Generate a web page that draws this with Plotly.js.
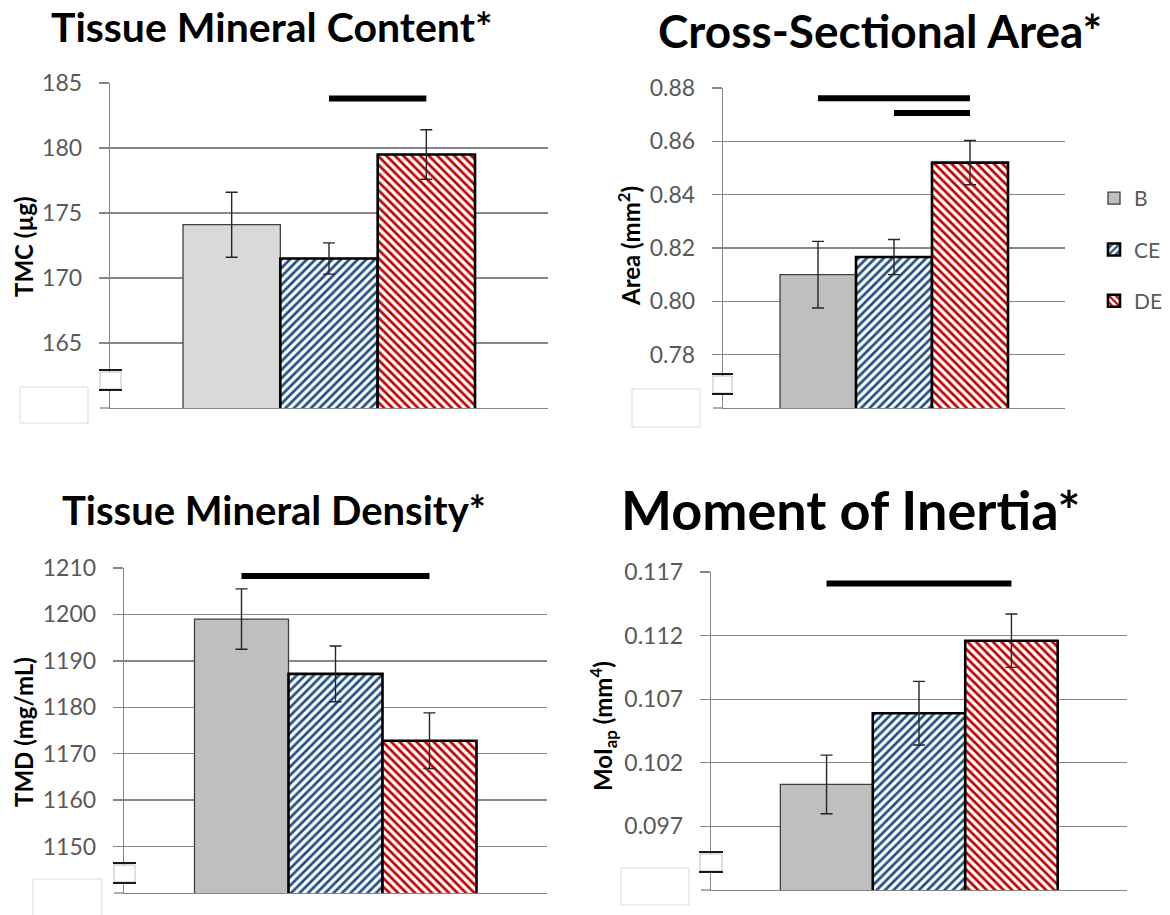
<!DOCTYPE html>
<html>
<head>
<meta charset="utf-8">
<script src="https://cdn.plot.ly/plotly-3.0.1.min.js"></script>
<style>
html,body{margin:0;padding:0;background:#fff;}
#chart{width:1170px;height:915px;}
</style>
</head>
<body>
<div id="chart"></div>
<script>
// ---------- DATA ----------
const groups = ["B", "CE", "DE"];

const tmcMean = [174.1, 171.5, 179.5];
const tmcErr  = [2.5, 1.2, 1.9];
const tmcRange = [160, 185];
const tmcTicks = [165, 170, 175, 180, 185];
const tmcSig = [[1, 2, 183.8]];

const areaMean = [0.810, 0.8166, 0.852];
const areaErr  = [0.0125, 0.0066, 0.0083];
const areaRange = [0.76, 0.88];
const areaTicks = [0.78, 0.80, 0.82, 0.84, 0.86, 0.88];
const areaSig = [[0, 2, 0.8762], [1, 2, 0.8706]];

const tmdMean = [1199.0, 1187.2, 1172.8];
const tmdErr  = [6.5, 6.0, 6.0];
const tmdRange = [1140, 1210];
const tmdTicks = [1150, 1160, 1170, 1180, 1190, 1200, 1210];
const tmdSig = [[0, 2, 1208.3]];

const moiMean = [0.1003, 0.1059, 0.1116];
const moiErr  = [0.0023, 0.0025, 0.0021];
const moiRange = [0.092, 0.117];
const moiTicks = [0.097, 0.102, 0.107, 0.112, 0.117];
const moiSig = [[0, 2, 0.1161]];

const titles = ["Tissue Mineral Content*", "Cross-Sectional Area*", "Tissue Mineral Density*", "Moment of Inertia*"];
const yTitles = ["TMC (µg)", "Area (mm<sup>2</sup>)", "TMD (mg/mL)", "MoI<sub>ap</sub> (mm<sup>4</sup>)"];

// ---------- STYLE / LAYOUT ----------
const W = 1170, H = 915;
const px = x => x / W;
const py = y => 1 - y / H;
const FONT = "Lato, 'Open Sans', sans-serif";
const GRID = "#868686";

const panels = [
  {mean: tmcMean, err: tmcErr, range: tmcRange, ticks: tmcTicks, fmt: ".0f", sig: tmcSig, bcol: "#d9d9d9",
   box: [110, 548, 83, 408], title: [271, 26, 41], ytitle: [23, 247],
   brk: [99, 122, 370, 390], empty: [20, 88, 387, 423]},
  {mean: areaMean, err: areaErr, range: areaRange, ticks: areaTicks, fmt: ".2f", sig: areaSig, bcol: "#bfbfbf",
   box: [723, 1065, 88, 408], title: [880, 30, 46], ytitle: [629, 246],
   brk: [712, 733, 374, 394], empty: [632, 700, 389, 427]},
  {mean: tmdMean, err: tmdErr, range: tmdRange, ticks: tmdTicks, fmt: ".0f", sig: tmdSig, bcol: "#bfbfbf",
   box: [124, 547, 568, 893], title: [274, 510, 40], ytitle: [23, 732],
   brk: [113, 136, 863, 883], empty: [33, 102, 879, 925]},
  {mean: moiMean, err: moiErr, range: moiRange, ticks: moiTicks, fmt: ".3f", sig: moiSig, bcol: "#bfbfbf",
   box: [711, 1127, 572, 890], title: [850, 510, 54], ytitle: [603, 726],
   brk: [699, 723, 852, 872], empty: [621, 689, 868, 905]}
];

const traces = [];
const shapes = [];
const annotations = [];
const layout = {
  width: W, height: H,
  margin: {l: 0, r: 0, t: 0, b: 0},
  paper_bgcolor: "#fff", plot_bgcolor: "#fff",
  barmode: "overlay",
  showlegend: true,
  legend: {x: px(1094), y: py(178), xanchor: "left", yanchor: "top",
           font: {family: FONT, size: 21, color: "#595959"},
           traceorder: "grouped", tracegroupgap: 21, itemwidth: 30, bgcolor: "rgba(0,0,0,0)"},
  font: {family: FONT}
};

panels.forEach((p, i) => {
  const n = i === 0 ? "" : String(i + 1);
  const xa = "x" + n, ya = "y" + n;
  const [x0, x1, yTop, yBot] = p.box;
  layout["xaxis" + n] = {
    domain: [px(x0), px(x1)], anchor: ya, range: [-1.25, 3.25],
    showgrid: false, zeroline: false, showticklabels: false, ticks: "",
    showline: true, linecolor: GRID, linewidth: 1.3, fixedrange: true
  };
  layout["yaxis" + n] = {
    domain: [py(yBot), py(yTop)], anchor: xa, range: p.range,
    tickvals: p.ticks, tickformat: p.fmt, ticks: "outside", ticklen: 10, tickcolor: GRID, tickwidth: 1.3,
    showgrid: true, gridcolor: GRID, gridwidth: 1.3, zeroline: false,
    showline: true, linecolor: GRID, linewidth: 1.3,
    tickfont: {family: FONT, size: 23, color: "#595959"}, ticklabelstandoff: 12, fixedrange: true
  };

  groups.forEach((g, k) => {
    const marker = k === 0
      ? {color: p.bcol, line: {color: "#404040", width: 1.3}}
      : {color: k === 1 ? "#1f4e85" : "#c00000",
         line: {color: "#000", width: 2.6},
         pattern: {shape: k === 1 ? "/" : "\\", fgcolor: k === 1 ? "#1f4e85" : "#c00000",
                   bgcolor: "#ffffff", size: 6, solidity: 0.45, fillmode: "replace"}};
    traces.push({
      type: "bar", x: [k], y: [p.mean[k]], width: 1, xaxis: xa, yaxis: ya,
      name: g, legendgroup: g, showlegend: i === 1,
      marker: marker, cliponaxis: true,
      error_y: {type: "data", array: [p.err[k]], visible: true, color: "#262626", thickness: 1.4, width: 6},
      hoverinfo: "skip"
    });
  });

  // bottom tick stub (unlabelled range minimum)
  shapes.push({type: "line", xref: "paper", yref: "paper", x0: px(x0 - 10), x1: px(x0), y0: py(yBot), y1: py(yBot),
               line: {color: GRID, width: 1.3}});

  // significance bars
  p.sig.forEach(s => {
    shapes.push({type: "line", xref: xa, yref: ya, x0: s[0], x1: s[1], y0: s[2], y1: s[2],
                 line: {color: "#000", width: 6}});
  });

  // axis break symbol
  const [bx0, bx1, by0, by1] = p.brk;
  shapes.push({type: "rect", xref: "paper", yref: "paper", x0: px(bx0 + 1), x1: px(bx1 - 1),
               y0: py(by1 - 1), y1: py(by0 + 2), fillcolor: "#fff", line: {color: "#bfbfbf", width: 1}});
  shapes.push({type: "line", xref: "paper", yref: "paper", x0: px(bx0), x1: px(bx1), y0: py(by0), y1: py(by0),
               line: {color: "#000", width: 1.8}});
  shapes.push({type: "line", xref: "paper", yref: "paper", x0: px(bx0), x1: px(bx1), y0: py(by1), y1: py(by1),
               line: {color: "#000", width: 1.8}});
  // empty box
  const [ex0, ex1, ey0, ey1] = p.empty;
  shapes.push({type: "rect", xref: "paper", yref: "paper", x0: px(ex0), x1: px(ex1), y0: py(ey1), y1: py(ey0),
               fillcolor: "#fff", line: {color: "#d9d9d9", width: 1}});

  // titles
  annotations.push({text: titles[i], xref: "paper", yref: "paper", x: px(p.title[0]), y: py(p.title[1]),
                    xanchor: "center", yanchor: "middle", showarrow: false,
                    font: {family: FONT, size: p.title[2], color: "#000", weight: "bold"}});
  annotations.push({text: yTitles[i], xref: "paper", yref: "paper", x: px(p.ytitle[0]), y: py(p.ytitle[1]),
                    xanchor: "center", yanchor: "middle", showarrow: false, textangle: -90,
                    font: {family: FONT, size: 24, color: "#000", weight: "bold"}});
});

layout.shapes = shapes;
layout.annotations = annotations;

Plotly.newPlot("chart", traces, layout, {staticPlot: true, displayModeBar: false});
</script>
</body>
</html>
